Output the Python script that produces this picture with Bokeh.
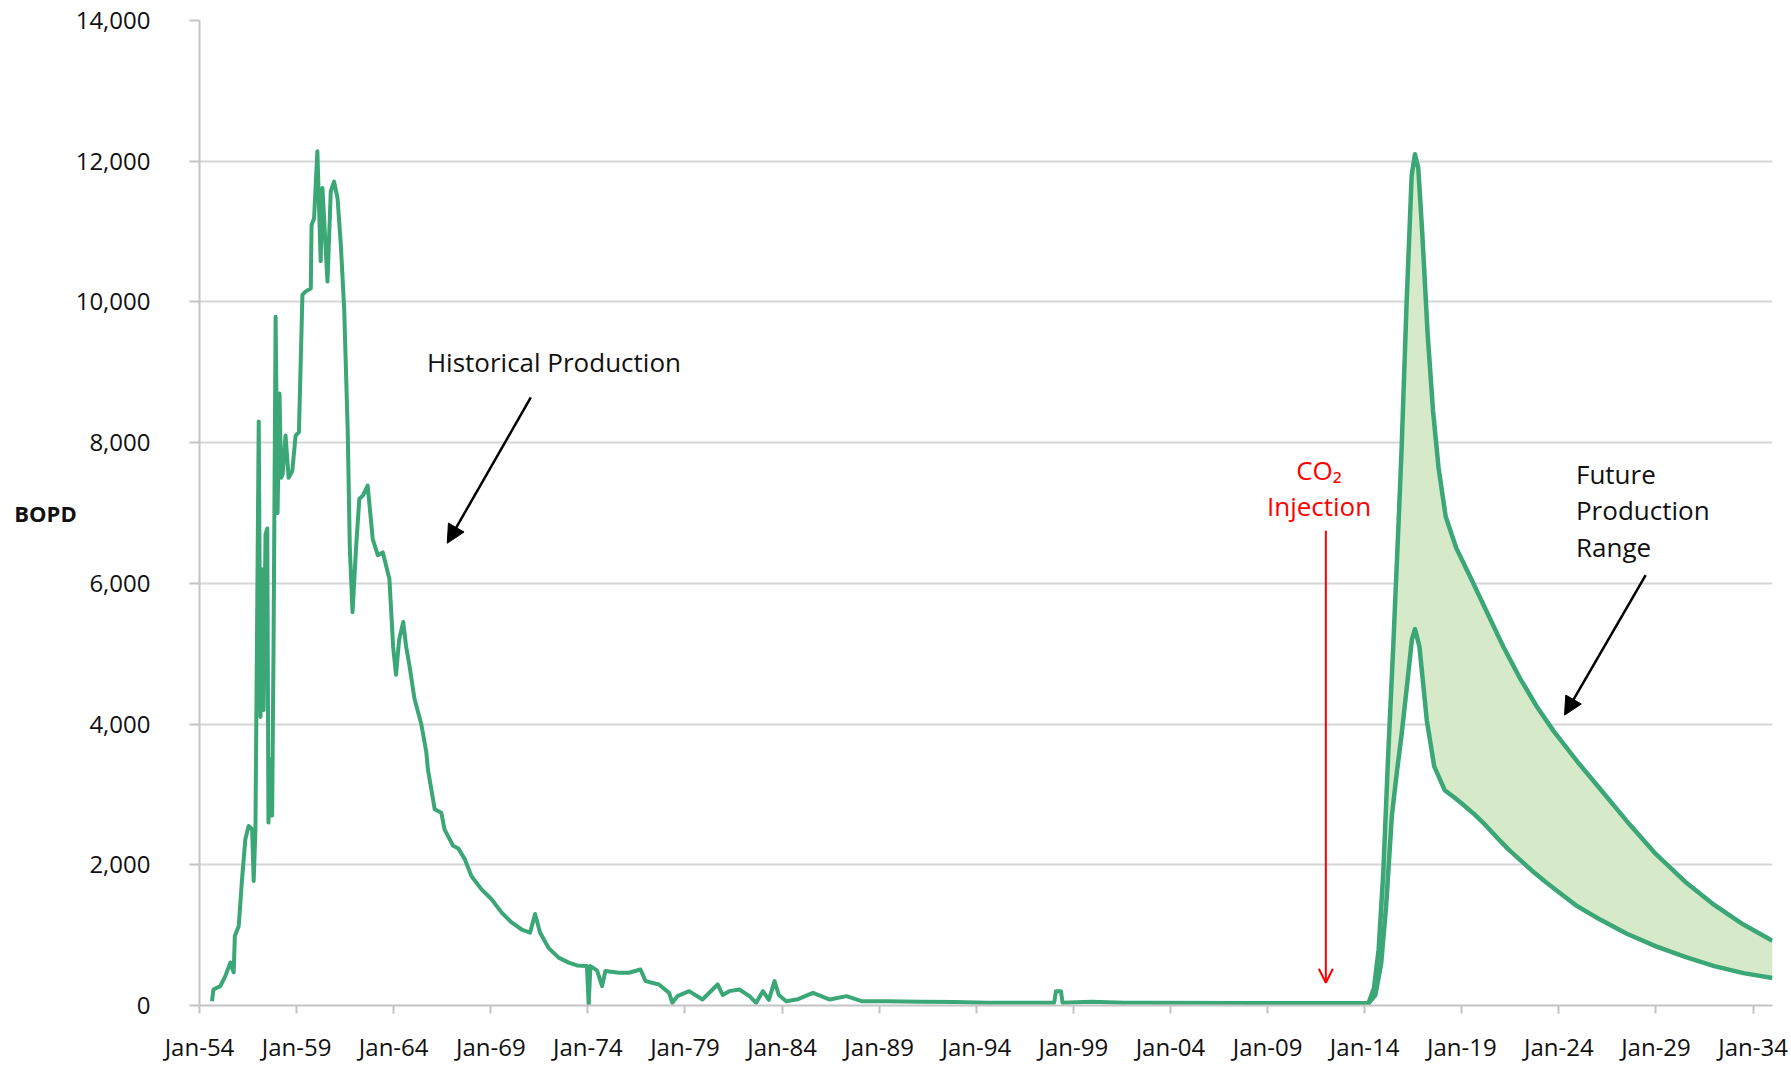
from bokeh.plotting import figure
from bokeh.models import (FixedTicker, NumeralTickFormatter, Label, Arrow,
                          NormalHead, OpenHead, Range1d)
from bokeh.embed import file_html
from bokeh.resources import INLINE

# ---------------- data ----------------
hist_year = [
    1954.64, 1954.72, 1955.07, 1955.33, 1955.59, 1955.76, 1955.82, 1956.02, 1956.19, 1956.36,
    1956.53, 1956.71, 1956.79, 1956.88, 1957.05, 1957.14, 1957.22, 1957.30, 1957.40, 1957.49,
    1957.55, 1957.66, 1957.74, 1957.81, 1957.92, 1958.02, 1958.12, 1958.20, 1958.28, 1958.43,
    1958.59, 1958.78, 1958.95, 1959.12, 1959.30, 1959.47, 1959.73, 1959.77, 1959.90, 1960.07,
    1960.24, 1960.33, 1960.59, 1960.76, 1960.93, 1961.11, 1961.28, 1961.45, 1961.63, 1961.74,
    1961.88, 1962.06, 1962.23, 1962.42, 1962.66, 1962.92, 1963.18, 1963.44, 1963.61, 1963.78,
    1963.97, 1964.12, 1964.28, 1964.49, 1964.64, 1964.80, 1965.07, 1965.42, 1965.68, 1965.76,
    1966.11, 1966.45, 1966.62, 1967.06, 1967.33, 1967.66, 1968.00, 1968.52, 1969.04, 1969.56,
    1970.07, 1970.59, 1971.02, 1971.28, 1971.54, 1971.97, 1972.49, 1973.01, 1973.44, 1973.95,
    1974.04, 1974.13, 1974.47, 1974.73, 1974.90, 1975.59, 1976.11, 1976.71, 1976.97, 1977.66,
    1978.18, 1978.35, 1978.61, 1979.21, 1979.90, 1980.68, 1980.94, 1981.28, 1981.80, 1982.32,
    1982.66, 1983.01, 1983.32, 1983.61, 1983.83, 1984.21, 1984.82, 1985.59, 1986.46, 1987.32,
    1988.09, 1989.39, 1991.11, 1992.84, 1994.56, 1998.01, 1998.10, 1998.36, 1998.44, 1999.91,
    2001.63, 2003.18, 2008.36, 2014.31,
]
hist_bopd = [
    61, 228, 275, 417, 612, 470, 987, 1129, 1794, 2363,
    2552, 2505, 1769, 2505, 8300, 4100, 6200, 4200, 6700, 6780,
    2600, 3500, 2700, 5000, 9790, 7000, 8700, 7500, 7550, 8100,
    7500, 7600, 8100, 8150, 10100, 10150, 10190, 11090, 11190, 12140,
    10580, 11620, 10290, 11570, 11710, 11470, 10800, 9900, 8200, 6500,
    5590, 6500, 7200, 7250, 7390, 6630, 6400, 6440, 6250, 6060,
    5100, 4700, 5200, 5450, 5100, 4850, 4360, 4000, 3600, 3360,
    2790, 2740, 2500, 2270, 2230, 2080, 1840, 1650, 1510, 1320,
    1180, 1080, 1035, 1300, 1035, 820, 680, 610, 570, 560,
    10, 560, 500, 275, 490, 465, 465, 512, 346, 299,
    180, 38, 133, 204, 85, 299, 150, 204, 228, 133,
    38, 204, 80, 346, 150, 61, 90, 180, 85, 133,
    61, 61, 55, 50, 40, 38, 204, 204, 40, 55,
    38, 38, 35, 35,
]

fut_hi_year = [2014.20, 2014.48, 2014.72, 2014.96, 2015.20, 2015.47, 2015.75, 2015.90, 2016.16,
               2016.42, 2016.59, 2016.76, 2016.96, 2017.24, 2017.52, 2017.80, 2018.17, 2018.72,
               2019.42, 2020.28, 2021.14, 2022.00, 2022.86, 2023.73, 2025.00, 2026.00, 2027.50,
               2029.00, 2030.50, 2032.00, 2033.50, 2035.00]
fut_hi = [35, 250, 800, 1900, 3500, 5100, 6900, 7900, 10000,
          11800, 12100, 11900, 11000, 9550, 8450, 7650, 6950, 6500,
          6100, 5600, 5100, 4650, 4250, 3900, 3450, 3120, 2620,
          2150, 1760, 1430, 1150, 920]

fut_lo_year = [2014.20, 2014.55, 2014.85, 2015.10, 2015.40, 2015.65, 2015.90, 2016.18, 2016.43,
               2016.59, 2016.82, 2017.20, 2017.58, 2018.12, 2018.60, 2019.00, 2019.60, 2020.20,
               2020.80, 2021.40, 2022.00, 2022.60, 2023.30, 2024.00, 2024.90, 2026.00, 2027.50,
               2029.00, 2030.50, 2032.00, 2033.50, 2035.00]
fut_lo = [35, 150, 600, 1400, 2700, 3300, 3850, 4550, 5200,
          5350, 5100, 4050, 3400, 3060, 2960, 2870, 2730, 2570,
          2390, 2220, 2070, 1920, 1760, 1610, 1420, 1240, 1020,
          840, 690, 560, 460, 390]

tick_years = [1954, 1959, 1964, 1969, 1974, 1979, 1984, 1989, 1994, 1999,
              2004, 2009, 2014, 2019, 2024, 2029, 2034]
tick_labels = ["Jan-54", "Jan-59", "Jan-64", "Jan-69", "Jan-74", "Jan-79", "Jan-84",
               "Jan-89", "Jan-94", "Jan-99", "Jan-04", "Jan-09", "Jan-14", "Jan-19",
               "Jan-24", "Jan-29", "Jan-34"]
y_ticks = [0, 2000, 4000, 6000, 8000, 10000, 12000, 14000]

assert len(hist_year) == len(hist_bopd)
assert len(fut_hi_year) == len(fut_hi)
assert len(fut_lo_year) == len(fut_lo)

GREEN = "#3BA776"
FILL = "#D6E9C9"
GRID = "#D6D6D6"
AXIS = "#C4C4C4"
FONT = "Open Sans"
TXT = "#111111"

# ---------------- figure ----------------
p = figure(width=1790, height=1065,
           x_range=Range1d(1954, 2035), y_range=Range1d(0, 14000),
           output_backend="svg", toolbar_location=None,
           min_border_left=199, min_border_right=18,
           min_border_top=20, min_border_bottom=57)
p.outline_line_color = None
p.background_fill_color = "white"
p.border_fill_color = "white"

p.xgrid.visible = False
p.ygrid.grid_line_color = GRID
p.ygrid.grid_line_width = 2
p.ygrid.ticker = FixedTicker(ticks=y_ticks)

# y axis
p.yaxis.ticker = FixedTicker(ticks=y_ticks)
p.yaxis.formatter = NumeralTickFormatter(format="0,0")
p.yaxis.axis_line_color = AXIS
p.yaxis.axis_line_width = 2
p.yaxis.major_tick_line_color = AXIS
p.yaxis.major_tick_line_width = 2
p.yaxis.major_tick_out = 10
p.yaxis.major_tick_in = 0
p.yaxis.minor_tick_line_color = None
p.yaxis.major_label_standoff = 39
p.yaxis.major_label_text_font = FONT
p.yaxis.major_label_text_font_size = "24px"
p.yaxis.major_label_text_color = TXT

# y-axis title, written horizontally like the reference
bopd_done = False
try:
    p.yaxis.axis_label = "BOPD"
    p.yaxis.axis_label_orientation = "horizontal"
    p.yaxis.axis_label_standoff = -4
    p.yaxis.axis_label_text_font = FONT
    p.yaxis.axis_label_text_font_size = "22px"
    p.yaxis.axis_label_text_font_style = "bold"
    p.yaxis.axis_label_text_color = TXT
    bopd_done = True
except Exception:
    p.yaxis.axis_label = None

# x axis
p.xaxis.ticker = FixedTicker(ticks=tick_years)
p.xaxis.major_label_overrides = {y: lab for y, lab in zip(tick_years, tick_labels)}
p.xaxis.axis_line_color = AXIS
p.xaxis.axis_line_width = 2
p.xaxis.major_tick_line_color = AXIS
p.xaxis.major_tick_line_width = 2
p.xaxis.major_tick_out = 8
p.xaxis.major_tick_in = 0
p.xaxis.minor_tick_line_color = None
p.xaxis.major_label_standoff = 16
p.xaxis.major_label_text_font = FONT
p.xaxis.major_label_text_font_size = "24px"
p.xaxis.major_label_text_color = TXT

# ---------------- glyphs ----------------
band_x = fut_hi_year + fut_lo_year[::-1]
band_y = fut_hi + fut_lo[::-1]
p.patch(band_x, band_y, fill_color=FILL, line_color=None)
p.line(fut_hi_year, fut_hi, line_color=GREEN, line_width=4.5, line_join="round")
p.line(fut_lo_year, fut_lo, line_color=GREEN, line_width=4.5, line_join="round")
p.line(hist_year, hist_bopd, line_color=GREEN, line_width=4, line_join="round")

# ---------------- annotations ----------------
def lab(x, y, text, size="26px", color=TXT, align="left", style="normal", units="data"):
    p.add_layout(Label(x=x, y=y, x_units=units, y_units=units, text=text,
                       text_font=FONT, text_font_size=size,
                       text_color=color, text_align=align, text_baseline="middle",
                       text_font_style=style))

if not bopd_done:
    lab(-153, 480, "BOPD", size="22px", align="center", style="bold", units="screen")

lab(1965.71, 9145, "Historical Production")
lab(2024.88, 7558, "Future")
lab(2024.88, 7040, "Production")
lab(2024.88, 6523, "Range")
lab(2011.65, 7607, "CO\u2082", color="#FF0000", align="center")
lab(2011.65, 7105, "Injection", color="#FF0000", align="center")

p.add_layout(Arrow(x_start=1971.06, y_start=8643, x_end=1966.76, y_end=6571,
                   line_color="black", line_width=2.5,
                   end=NormalHead(size=18, fill_color="black", line_color="black")))
p.add_layout(Arrow(x_start=2028.47, y_start=6118, x_end=2024.29, y_end=4127,
                   line_color="black", line_width=2.5,
                   end=NormalHead(size=18, fill_color="black", line_color="black")))
p.add_layout(Arrow(x_start=2012.0, y_start=6749, x_end=2012.0, y_end=324,
                   line_color="#FF0000", line_width=2,
                   end=OpenHead(size=14, line_color="#FF0000", line_width=2)))

open("out.html", "w").write(file_html(p, INLINE))
